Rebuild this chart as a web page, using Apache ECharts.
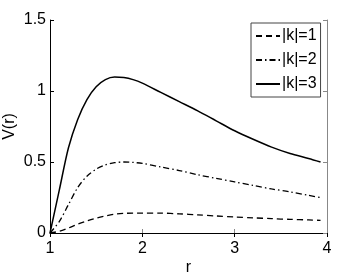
<!DOCTYPE html>
<html><head><meta charset="utf-8">
<script src="https://cdn.jsdelivr.net/npm/echarts@6/dist/echarts.min.js"></script>
<style>html,body{margin:0;padding:0;background:#fff}#c{width:362px;height:273px}</style>
</head><body><div id="c"></div>
<script>
const r  = [1.0,1.1,1.2,1.3,1.4,1.5,1.6,1.7,1.8,1.9,2.0,2.2,2.4,2.6,2.8,3.0,3.2,3.4,3.6,3.8,3.93];
const V1 = [0,0.012,0.035,0.062,0.085,0.105,0.12,0.132,0.138,0.14,0.14,0.14,0.135,0.128,0.12,0.113,0.107,0.101,0.096,0.092,0.089];
const V2 = [0,0.08,0.20,0.32,0.40,0.45,0.48,0.495,0.50,0.497,0.49,0.465,0.44,0.41,0.385,0.36,0.335,0.31,0.29,0.265,0.25];
const V3 = [0,0.30,0.60,0.80,0.94,1.03,1.08,1.098,1.095,1.08,1.055,0.99,0.925,0.86,0.79,0.72,0.66,0.605,0.56,0.525,0.50];
const names = ['|k|=1','|k|=2','|k|=3'];
const xTicks = [1,2,3,4];
const yTicks = [0,0.5,1,1.5];

const pair = v => r.map((x,i)=>[x,v[i]]);
const font = 'Liberation Sans, Arial, sans-serif';
const chart = echarts.init(document.getElementById('c'));
const styles = [
  {type:[6,4], width:1.3},
  {type:[6,3,1.5,3], width:1.3},
  {type:'solid', width:1.5}
];
chart.setOption({
  animation:false,
  grid:{left:50, top:20, right:35, bottom:40, containLabel:false, outerBoundsMode:'none'},
  legend:{
    orient:'vertical', left:251, top:23, width:74,
    data:names, itemWidth:24, itemHeight:10, itemGap:8,
    borderColor:'#444', borderWidth:1, padding:[5,4,5,4],
    itemStyle:{opacity:0},
    textStyle:{fontFamily:font, fontSize:16, color:'#000', padding:[0,0,0,-3]}
  },
  xAxis:[{
    type:'value', min:1, max:4, interval:1,
    name:'r', nameLocation:'middle', nameGap:27, nameMoveOverlap:false,
    nameTextStyle:{fontFamily:font, fontSize:16, color:'#000'},
    axisLine:{lineStyle:{color:'#888', width:1}},
    axisTick:{inside:true, length:4, lineStyle:{color:'#888'}},
    axisLabel:{fontFamily:font, fontSize:16, color:'#000', margin:8,
      formatter:v=>xTicks.includes(v)?String(v):''},
    splitLine:{show:false}
  },{
    type:'value', min:1, max:4, interval:1, position:'top',
    axisLine:{lineStyle:{color:'#000', width:1}},
    axisTick:{inside:true, length:4, lineStyle:{color:'#000'}},
    axisLabel:{show:false}, splitLine:{show:false}
  }],
  yAxis:[{
    type:'value', min:0, max:1.5, interval:0.5,
    name:'V(r)', nameLocation:'middle', nameGap:32, nameMoveOverlap:false,
    nameTextStyle:{fontFamily:font, fontSize:16, color:'#000'},
    axisLine:{show:true, lineStyle:{color:'#000', width:1}},
    axisTick:{show:true, inside:true, length:4, lineStyle:{color:'#000'}},
    axisLabel:{fontFamily:font, fontSize:16, color:'#000', margin:4,
      formatter:v=>yTicks.includes(v)?String(v):''},
    splitLine:{show:false}
  },{
    type:'value', min:0, max:1.5, interval:0.5, position:'right',
    axisLine:{show:true, lineStyle:{color:'#888', width:1}},
    axisTick:{show:true, inside:true, length:4, lineStyle:{color:'#888'}},
    axisLabel:{show:false}, splitLine:{show:false}
  }],
  series:[V1,V2,V3].map((v,i)=>({
    name:names[i], type:'line', data:pair(v), smooth:0.3,
    symbol:'none', showSymbol:false,
    lineStyle:{color:'#000', width:styles[i].width, type:styles[i].type},
    itemStyle:{color:'#000'}
  }))
});
</script></body></html>
